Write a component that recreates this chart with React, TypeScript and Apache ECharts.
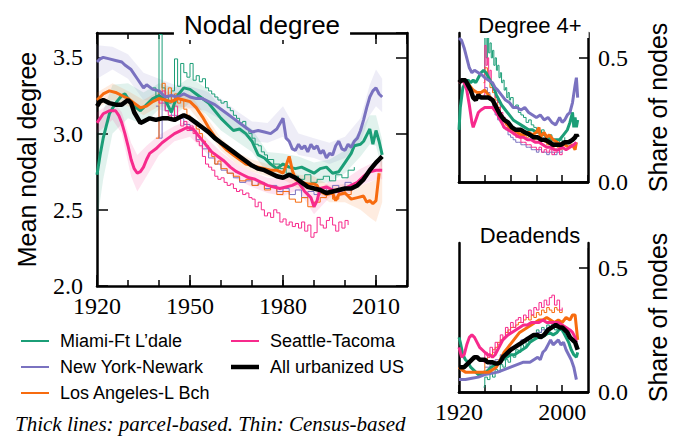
import React, { useEffect, useRef } from "react";
import * as echarts from "echarts";

// ---------- colours ----------
const C_MIAMI = "#1b9e77";
const C_NY = "#7a72c0";
const C_LA = "#f76b0f";
const C_SEA = "#f72a8c";
const C_US = "#000000";

const cityNames = ["Miami-Ft L\u2019dale", "New York-Newark", "Los Angeles-L Bch", "Seattle-Tacoma", "All urbanized US"];

// ---------- Nodal degree (main panel), parcel-based (thick) ----------
const usDeg: number[][] = [[1920,3.18],[1921,3.21],[1922,3.22],[1924,3.20],[1926,3.19],[1928,3.19],[1930,3.22],[1931,3.20],[1932,3.14],[1934,3.07],[1935,3.08],[1937,3.10],[1939,3.09],[1941,3.10],[1943,3.10],[1945,3.09],[1947,3.11],[1948,3.12],[1950,3.10],[1952,3.07],[1954,3.04],[1956,3.01],[1958,2.97],[1960,2.94],[1962,2.91],[1964,2.88],[1966,2.85],[1968,2.82],[1970,2.79],[1972,2.77],[1974,2.76],[1976,2.74],[1978,2.72],[1980,2.71],[1982,2.73],[1984,2.71],[1986,2.68],[1988,2.65],[1990,2.64],[1992,2.63],[1994,2.61],[1996,2.62],[1998,2.63],[2000,2.64],[2002,2.64],[2004,2.66],[2006,2.70],[2008,2.76],[2010,2.81],[2011,2.83],[2012,2.85]];
const nyDeg: number[][] = [[1920,3.47],[1921,3.49],[1922,3.50],[1924,3.49],[1926,3.48],[1928,3.47],[1929,3.45],[1931,3.42],[1933,3.36],[1935,3.30],[1936,3.32],[1938,3.29],[1940,3.28],[1942,3.24],[1944,3.25],[1946,3.24],[1948,3.26],[1950,3.24],[1952,3.23],[1954,3.23],[1956,3.21],[1958,3.19],[1960,3.16],[1962,3.13],[1964,3.10],[1966,3.07],[1968,3.04],[1970,3.01],[1972,3.02],[1974,3.01],[1976,3.00],[1978,3.03],[1980,3.10],[1981,2.97],[1982,2.95],[1983,2.90],[1984,2.89],[1985,2.93],[1986,2.90],[1987,2.92],[1988,2.88],[1989,2.93],[1990,2.90],[1991,2.92],[1992,2.87],[1993,2.89],[1994,2.84],[1995,2.87],[1996,2.86],[1997,2.92],[1998,2.95],[1999,2.90],[2000,2.89],[2001,2.93],[2002,2.91],[2003,2.95],[2004,2.97],[2005,3.02],[2006,3.09],[2007,3.17],[2008,3.24],[2009,3.28],[2010,3.30],[2011,3.26],[2012,3.24]];
const miamiDeg: number[][] = [[1920,2.73],[1921,2.86],[1922,2.97],[1923,3.05],[1924,3.13],[1926,3.20],[1928,3.25],[1929,3.26],[1930,3.23],[1932,3.18],[1934,3.15],[1936,3.19],[1938,3.23],[1940,3.25],[1942,3.22],[1943,3.18],[1944,3.14],[1945,3.20],[1946,3.25],[1948,3.30],[1950,3.29],[1952,3.26],[1954,3.23],[1956,3.20],[1958,3.15],[1960,3.10],[1962,3.06],[1964,3.02],[1966,3.03],[1968,3.00],[1970,2.95],[1972,2.86],[1974,2.84],[1976,2.80],[1978,2.77],[1980,2.80],[1982,2.78],[1984,2.77],[1986,2.78],[1988,2.76],[1990,2.74],[1992,2.77],[1994,2.78],[1996,2.74],[1998,2.75],[2000,2.81],[2002,2.87],[2003,2.92],[2005,2.93],[2006,2.95],[2007,2.99],[2008,3.03],[2009,2.93],[2010,3.02],[2011,2.95],[2012,2.86]];
const laDeg: number[][] = [[1920,3.22],[1922,3.26],[1924,3.28],[1926,3.27],[1928,3.25],[1930,3.23],[1932,3.20],[1934,3.17],[1936,3.18],[1938,3.21],[1940,3.23],[1942,3.22],[1944,3.21],[1946,3.23],[1948,3.22],[1950,3.21],[1952,3.17],[1954,3.11],[1956,3.04],[1958,2.98],[1960,2.93],[1962,2.89],[1964,2.86],[1966,2.83],[1968,2.80],[1970,2.79],[1972,2.78],[1974,2.77],[1976,2.76],[1978,2.76],[1980,2.74],[1981,2.79],[1982,2.85],[1983,2.76],[1984,2.70],[1986,2.68],[1988,2.67],[1990,2.67],[1991,2.66],[1992,2.62],[1994,2.60],[1996,2.61],[1997,2.56],[1998,2.60],[2000,2.61],[2002,2.57],[2004,2.58],[2006,2.59],[2007,2.55],[2008,2.56],[2009,2.54],[2010,2.56],[2011,2.74]];
const seaDeg: number[][] = [[1920,3.07],[1921,3.10],[1922,3.13],[1924,3.15],[1926,3.15],[1927,3.12],[1928,3.07],[1929,3.00],[1930,2.92],[1931,2.83],[1932,2.77],[1933,2.74],[1934,2.75],[1935,2.78],[1936,2.83],[1937,2.87],[1939,2.90],[1941,2.94],[1943,2.97],[1945,3.00],[1947,3.02],[1949,3.04],[1951,3.03],[1953,2.98],[1955,2.93],[1957,2.88],[1959,2.85],[1961,2.82],[1963,2.78],[1965,2.75],[1967,2.73],[1969,2.71],[1971,2.70],[1973,2.68],[1975,2.66],[1977,2.65],[1979,2.64],[1981,2.65],[1983,2.66],[1985,2.68],[1987,2.62],[1989,2.58],[1990,2.52],[1991,2.56],[1992,2.64],[1994,2.65],[1996,2.63],[1998,2.62],[2000,2.64],[2002,2.66],[2004,2.68],[2006,2.72],[2008,2.75],[2010,2.76],[2012,2.76]];

// confidence bands [year, low, high]
const nyBand: number[][] = [[1920,3.36,3.58],[1925,3.42,3.57],[1930,3.36,3.52],[1935,3.22,3.40],[1940,3.21,3.36],[1945,3.18,3.32],[1950,3.17,3.31],[1955,3.15,3.28],[1960,3.09,3.23],[1965,3.02,3.15],[1970,2.95,3.08],[1975,2.94,3.07],[1980,2.98,3.18],[1985,2.86,3.00],[1990,2.84,2.97],[1995,2.80,2.94],[2000,2.84,2.98],[2005,2.94,3.10],[2008,3.12,3.32],[2010,3.18,3.42],[2012,3.14,3.36]];
const miamiBand: number[][] = [[1920,2.42,3.02],[1922,2.70,3.15],[1925,3.00,3.32],[1930,3.10,3.33],[1935,3.06,3.27],[1940,3.16,3.33],[1945,3.12,3.30],[1950,3.20,3.37],[1955,3.13,3.30],[1960,3.02,3.17],[1965,2.95,3.09],[1970,2.88,3.03],[1975,2.74,2.88],[1980,2.72,2.87],[1985,2.70,2.85],[1990,2.67,2.81],[1995,2.68,2.83],[2000,2.74,2.89],[2005,2.85,3.02],[2008,2.93,3.12],[2010,2.92,3.12],[2012,2.76,2.96]];
const laBand: number[][] = [[1920,3.17,3.27],[1925,3.22,3.33],[1930,3.18,3.28],[1935,3.12,3.22],[1940,3.18,3.28],[1945,3.17,3.27],[1950,3.16,3.26],[1955,3.03,3.12],[1960,2.89,2.97],[1965,2.80,2.88],[1970,2.75,2.83],[1975,2.72,2.80],[1980,2.70,2.80],[1985,2.64,2.73],[1990,2.62,2.72],[1995,2.55,2.66],[2000,2.55,2.67],[2005,2.50,2.66],[2008,2.45,2.68],[2010,2.42,2.70],[2012,2.55,2.85]];
const seaBand: number[][] = [[1920,3.00,3.14],[1925,3.09,3.21],[1928,3.00,3.14],[1931,2.72,2.94],[1933,2.62,2.86],[1936,2.72,2.92],[1940,2.86,2.99],[1945,2.95,3.05],[1950,2.98,3.09],[1955,2.88,2.98],[1960,2.78,2.88],[1965,2.70,2.80],[1970,2.65,2.75],[1975,2.61,2.71],[1980,2.59,2.70],[1985,2.63,2.73],[1990,2.47,2.60],[1995,2.58,2.69],[2000,2.59,2.70],[2005,2.66,2.77],[2010,2.70,2.82],[2012,2.70,2.82]];

// Census-based (thin)
const miamiDegC: number[][] = [[1938,3.30],[1939,3.22],[1940,3.65],[1941,3.30],[1942,3.25],[1943,3.20],[1944,3.28],[1945,3.49],[1946,3.31],[1947,3.46],[1948,3.40],[1949,3.37],[1950,3.46],[1951,3.35],[1952,3.38],[1953,3.34],[1954,3.36],[1955,3.30],[1956,3.28],[1957,3.26],[1958,3.24],[1959,3.22],[1960,3.20],[1961,3.21],[1962,3.17],[1963,3.15],[1964,3.12],[1965,3.10],[1966,3.07],[1967,3.08],[1968,3.03],[1969,3.00],[1970,2.97],[1971,2.93],[1972,2.92],[1973,2.88],[1974,2.86],[1975,2.83],[1977,2.80],[1979,2.77],[1981,2.74],[1983,2.72],[1985,2.70],[1987,2.73],[1989,2.68],[1991,2.70],[1993,2.72],[1995,2.69],[1997,2.73],[1999,2.71],[2001,2.76],[2003,2.78]];
const seaDegC: number[][] = [[1939,3.25],[1940,3.20],[1941,3.28],[1942,3.15],[1943,3.12],[1944,3.10],[1945,3.18],[1946,3.10],[1947,3.05],[1948,3.08],[1949,3.02],[1950,3.05],[1951,3.00],[1952,2.95],[1953,2.92],[1954,2.85],[1955,2.80],[1956,2.78],[1957,2.76],[1958,2.72],[1959,2.70],[1960,2.71],[1961,2.68],[1962,2.66],[1963,2.67],[1964,2.64],[1965,2.62],[1966,2.63],[1967,2.60],[1968,2.61],[1969,2.58],[1970,2.57],[1971,2.52],[1972,2.55],[1973,2.50],[1974,2.46],[1975,2.48],[1976,2.45],[1977,2.50],[1978,2.48],[1979,2.42],[1980,2.44],[1981,2.40],[1982,2.42],[1983,2.39],[1984,2.41],[1985,2.38],[1986,2.42],[1987,2.36],[1988,2.40],[1989,2.32],[1990,2.35],[1991,2.45],[1992,2.40],[1993,2.38],[1994,2.43],[1995,2.45],[1996,2.40],[1997,2.36],[1998,2.42],[1999,2.38],[2000,2.43],[2001,2.40]];
const laDegC: number[][] = [[1939,2.97],[1940,3.27],[1941,3.33],[1942,3.25],[1943,3.30],[1944,3.22],[1945,3.26],[1946,3.20],[1947,3.22],[1948,3.16],[1949,3.12],[1950,3.10],[1951,3.08],[1952,3.03],[1953,3.00],[1954,2.95],[1955,2.92],[1956,2.88],[1957,2.85],[1958,2.80],[1959,2.82],[1960,2.77],[1962,2.74],[1964,2.72],[1966,2.69],[1968,2.70],[1970,2.66],[1972,2.67],[1974,2.63],[1976,2.65],[1978,2.60],[1980,2.62],[1982,2.57],[1984,2.55],[1986,2.58],[1988,2.52],[1990,2.55],[1992,2.58],[1994,2.62],[1996,2.57],[1998,2.63],[2000,2.60],[2002,2.63]];
const nyDegC: number[][] = [[1939,3.18],[1940,2.97],[1941,3.20],[1942,3.15],[1944,3.12],[1946,3.10],[1948,3.06],[1950,3.02],[1952,2.96],[1954,2.90],[1956,2.84],[1958,2.80],[1960,2.76],[1962,2.74],[1964,2.71],[1966,2.68],[1968,2.69],[1970,2.66],[1972,2.68],[1974,2.64],[1976,2.66],[1978,2.62],[1980,2.64],[1982,2.60],[1984,2.63],[1986,2.58],[1988,2.62],[1990,2.60],[1992,2.64],[1994,2.61],[1996,2.66],[1998,2.63],[2000,2.68],[2002,2.66]];

// ---------- Degree 4+ share ----------
const usD4: number[][] = [[1920,0.40],[1922,0.41],[1925,0.41],[1927,0.39],[1929,0.37],[1931,0.34],[1933,0.33],[1935,0.35],[1937,0.34],[1940,0.34],[1943,0.34],[1946,0.33],[1948,0.31],[1950,0.29],[1952,0.27],[1955,0.25],[1958,0.24],[1961,0.22],[1964,0.21],[1968,0.21],[1971,0.20],[1975,0.19],[1978,0.18],[1981,0.18],[1984,0.17],[1987,0.17],[1990,0.16],[1993,0.15],[1996,0.15],[1999,0.15],[2002,0.16],[2005,0.16],[2008,0.17],[2010,0.18],[2011,0.19],[2012,0.18]];
const nyD4: number[][] = [[1920,0.58],[1922,0.57],[1924,0.54],[1926,0.50],[1928,0.46],[1930,0.44],[1932,0.45],[1935,0.44],[1938,0.43],[1940,0.42],[1943,0.41],[1946,0.40],[1948,0.38],[1950,0.37],[1953,0.35],[1956,0.33],[1959,0.32],[1962,0.30],[1965,0.30],[1968,0.29],[1971,0.30],[1974,0.28],[1977,0.27],[1980,0.26],[1983,0.27],[1986,0.25],[1989,0.26],[1992,0.24],[1995,0.23],[1998,0.26],[2000,0.24],[2002,0.25],[2004,0.27],[2006,0.28],[2008,0.32],[2010,0.39],[2011,0.42],[2012,0.34]];
const miamiD4: number[][] = [[1920,0.21],[1921,0.30],[1923,0.38],[1925,0.40],[1927,0.41],[1929,0.40],[1931,0.41],[1933,0.40],[1935,0.42],[1937,0.44],[1939,0.45],[1941,0.44],[1943,0.42],[1945,0.40],[1947,0.38],[1949,0.35],[1951,0.33],[1953,0.31],[1956,0.29],[1959,0.27],[1962,0.25],[1965,0.24],[1968,0.23],[1971,0.22],[1974,0.21],[1977,0.21],[1980,0.20],[1983,0.20],[1986,0.19],[1989,0.18],[1992,0.17],[1995,0.17],[1998,0.17],[2001,0.19],[2004,0.21],[2006,0.24],[2008,0.28],[2009,0.22],[2010,0.26],[2011,0.22],[2012,0.25]];
const laD4: number[][] = [[1920,0.40],[1922,0.41],[1925,0.41],[1928,0.39],[1931,0.37],[1934,0.36],[1937,0.36],[1940,0.37],[1943,0.35],[1946,0.33],[1948,0.30],[1950,0.28],[1953,0.26],[1956,0.24],[1959,0.22],[1962,0.21],[1965,0.20],[1968,0.19],[1971,0.19],[1974,0.20],[1977,0.19],[1980,0.20],[1982,0.22],[1983,0.18],[1986,0.20],[1988,0.18],[1990,0.19],[1993,0.17],[1996,0.16],[1999,0.15],[2002,0.15],[2005,0.14],[2008,0.15],[2010,0.13],[2011,0.16]];
const seaD4: number[][] = [[1920,0.40],[1922,0.41],[1924,0.40],[1926,0.37],[1928,0.31],[1930,0.24],[1931,0.22],[1933,0.25],[1935,0.28],[1937,0.29],[1940,0.30],[1943,0.30],[1946,0.30],[1949,0.28],[1952,0.25],[1955,0.22],[1958,0.21],[1961,0.20],[1964,0.19],[1967,0.18],[1970,0.18],[1973,0.17],[1976,0.17],[1979,0.16],[1982,0.16],[1985,0.15],[1988,0.14],[1991,0.14],[1994,0.13],[1997,0.13],[2000,0.14],[2003,0.13],[2006,0.14],[2009,0.15],[2011,0.16]];
const miamiD4C: number[][] = [[1939,0.45],[1940,0.62],[1941,0.50],[1942,0.58],[1943,0.52],[1944,0.56],[1945,0.50],[1946,0.53],[1947,0.47],[1948,0.50],[1949,0.45],[1950,0.47],[1951,0.42],[1952,0.44],[1953,0.40],[1954,0.41],[1955,0.37],[1956,0.38],[1957,0.34],[1958,0.36],[1959,0.33],[1960,0.34],[1962,0.30],[1964,0.31],[1966,0.28],[1968,0.27],[1970,0.26],[1972,0.24],[1974,0.25],[1976,0.23],[1978,0.22],[1980,0.21],[1982,0.20],[1984,0.21],[1986,0.19],[1988,0.18],[1990,0.19],[1992,0.17],[1994,0.16],[1996,0.15],[1998,0.17],[2000,0.16],[2002,0.18]];
const seaD4C: number[][] = [[1939,0.35],[1940,0.55],[1941,0.47],[1942,0.50],[1943,0.42],[1944,0.45],[1945,0.40],[1946,0.37],[1947,0.38],[1948,0.34],[1950,0.32],[1952,0.28],[1954,0.26],[1956,0.23],[1958,0.21],[1960,0.20],[1962,0.19],[1964,0.18],[1966,0.18],[1968,0.16],[1970,0.16],[1972,0.15],[1974,0.15],[1976,0.14],[1978,0.14],[1980,0.13],[1982,0.14],[1984,0.12],[1986,0.13],[1988,0.12],[1990,0.13],[1992,0.11],[1994,0.12],[1996,0.13],[1998,0.11],[2000,0.12]];
const laD4C: number[][] = [[1939,0.40],[1940,0.46],[1942,0.42],[1944,0.38],[1946,0.36],[1948,0.33],[1950,0.30],[1952,0.27],[1954,0.25],[1956,0.23],[1958,0.22],[1960,0.21],[1962,0.21],[1964,0.20],[1966,0.19],[1968,0.20],[1970,0.19],[1972,0.18],[1974,0.19],[1976,0.18],[1978,0.17],[1980,0.18],[1982,0.16],[1984,0.17],[1986,0.16],[1988,0.15],[1990,0.16],[1992,0.14],[1994,0.15],[1996,0.14],[1998,0.13],[2000,0.14]];
const nyD4C: number[][] = [[1940,0.38],[1942,0.36],[1944,0.33],[1946,0.30],[1948,0.27],[1950,0.25],[1952,0.24],[1954,0.22],[1956,0.21],[1958,0.19],[1960,0.18],[1962,0.17],[1964,0.16],[1966,0.16],[1968,0.15],[1970,0.15],[1972,0.14],[1974,0.14],[1976,0.13],[1978,0.13],[1980,0.12],[1982,0.13],[1984,0.12],[1986,0.12],[1988,0.11],[1990,0.12],[1992,0.12],[1994,0.11],[1996,0.12],[1998,0.12],[2000,0.13]];

// ---------- Deadends share ----------
const usDE: number[][] = [[1920,0.10],[1922,0.10],[1924,0.10],[1926,0.11],[1928,0.12],[1930,0.13],[1932,0.14],[1934,0.14],[1936,0.13],[1938,0.13],[1940,0.13],[1942,0.12],[1944,0.12],[1946,0.12],[1948,0.115],[1950,0.115],[1952,0.12],[1954,0.14],[1956,0.15],[1958,0.16],[1960,0.17],[1963,0.18],[1966,0.19],[1969,0.20],[1972,0.21],[1975,0.22],[1978,0.23],[1981,0.23],[1983,0.22],[1986,0.23],[1989,0.25],[1992,0.26],[1995,0.27],[1998,0.26],[2000,0.26],[2002,0.25],[2004,0.24],[2006,0.22],[2008,0.21],[2010,0.20],[2012,0.17]];
const seaDE: number[][] = [[1920,0.18],[1922,0.14],[1924,0.15],[1926,0.19],[1928,0.22],[1930,0.23],[1932,0.22],[1934,0.20],[1936,0.18],[1938,0.17],[1940,0.16],[1942,0.15],[1944,0.15],[1946,0.14],[1948,0.15],[1950,0.17],[1952,0.19],[1954,0.21],[1956,0.22],[1958,0.23],[1961,0.24],[1964,0.25],[1967,0.26],[1970,0.27],[1973,0.27],[1976,0.28],[1979,0.28],[1982,0.28],[1985,0.29],[1988,0.28],[1991,0.28],[1994,0.28],[1997,0.28],[2000,0.27],[2003,0.26],[2006,0.25],[2008,0.24],[2010,0.22],[2011,0.20]];
const laDE: number[][] = [[1920,0.10],[1922,0.09],[1925,0.08],[1928,0.08],[1931,0.08],[1934,0.08],[1937,0.08],[1940,0.08],[1943,0.08],[1946,0.09],[1949,0.10],[1952,0.13],[1955,0.16],[1958,0.18],[1961,0.20],[1964,0.22],[1967,0.24],[1970,0.25],[1973,0.26],[1976,0.27],[1979,0.28],[1982,0.29],[1985,0.29],[1988,0.30],[1991,0.29],[1994,0.28],[1997,0.29],[2000,0.28],[2003,0.30],[2006,0.29],[2008,0.31],[2010,0.31],[2011,0.26],[2012,0.21]];
const miamiDE: number[][] = [[1920,0.22],[1921,0.20],[1923,0.15],[1925,0.13],[1927,0.12],[1929,0.10],[1931,0.09],[1933,0.08],[1935,0.07],[1937,0.07],[1939,0.08],[1941,0.08],[1943,0.09],[1945,0.10],[1948,0.11],[1951,0.12],[1954,0.13],[1957,0.14],[1960,0.15],[1963,0.15],[1966,0.16],[1969,0.17],[1972,0.18],[1975,0.20],[1978,0.21],[1981,0.22],[1984,0.22],[1987,0.23],[1990,0.24],[1993,0.23],[1996,0.24],[1999,0.26],[2001,0.24],[2003,0.22],[2005,0.20],[2007,0.17],[2009,0.15],[2011,0.14],[2012,0.16]];
const nyDE: number[][] = [[1920,0.05],[1925,0.05],[1930,0.055],[1935,0.06],[1940,0.07],[1945,0.075],[1950,0.08],[1955,0.09],[1960,0.10],[1965,0.11],[1970,0.12],[1975,0.12],[1978,0.13],[1981,0.14],[1983,0.13],[1985,0.16],[1987,0.17],[1989,0.19],[1991,0.21],[1993,0.19],[1995,0.20],[1997,0.21],[1999,0.19],[2001,0.20],[2003,0.17],[2005,0.15],[2007,0.13],[2009,0.10],[2011,0.05]];
const seaDEC: number[][] = [[1939,0.12],[1940,0.16],[1942,0.14],[1944,0.18],[1946,0.16],[1948,0.20],[1950,0.19],[1952,0.23],[1954,0.22],[1956,0.26],[1958,0.24],[1960,0.28],[1962,0.26],[1964,0.29],[1966,0.30],[1968,0.28],[1970,0.31],[1972,0.30],[1974,0.33],[1976,0.31],[1978,0.34],[1980,0.33],[1982,0.36],[1984,0.34],[1986,0.37],[1988,0.35],[1990,0.38],[1992,0.39],[1994,0.35],[1996,0.37],[1998,0.33],[2000,0.34]];
const laDEC: number[][] = [[1939,0.08],[1940,0.12],[1942,0.14],[1944,0.15],[1946,0.17],[1948,0.18],[1950,0.20],[1952,0.21],[1954,0.22],[1956,0.24],[1958,0.25],[1960,0.26],[1962,0.26],[1964,0.27],[1966,0.28],[1968,0.28],[1970,0.29],[1972,0.30],[1974,0.29],[1976,0.31],[1978,0.30],[1980,0.32],[1982,0.31],[1984,0.33],[1986,0.32],[1988,0.34],[1990,0.33],[1992,0.32],[1994,0.34],[1996,0.33],[1998,0.32],[2000,0.33]];
const miamiDEC: number[][] = [[1939,0.02],[1940,0.06],[1942,0.05],[1944,0.08],[1946,0.06],[1948,0.09],[1950,0.08],[1952,0.11],[1954,0.10],[1956,0.13],[1958,0.12],[1960,0.15],[1962,0.14],[1964,0.17],[1966,0.16],[1968,0.19],[1970,0.18],[1972,0.21],[1974,0.20],[1976,0.23],[1978,0.22],[1980,0.25],[1982,0.24],[1984,0.26],[1986,0.25],[1988,0.27],[1990,0.26],[1992,0.28],[1994,0.25],[1996,0.27],[1998,0.26],[2000,0.24]];
const nyDEC: number[][] = [[1940,0.10],[1944,0.11],[1948,0.13],[1952,0.15],[1956,0.16],[1960,0.18],[1964,0.19],[1968,0.21],[1972,0.22],[1976,0.23],[1980,0.24],[1984,0.25],[1988,0.26],[1992,0.27],[1996,0.26],[2000,0.25]];

// ---------- tick labels ----------
const mainYearLabels = [1920, 1950, 1980, 2010];
const smallYearLabels = [1920, 2000];

const SANS = "Liberation Sans";
const SERIF = "Liberation Serif";

function hexA(hex: string, a: number) {
  const n = parseInt(hex.slice(1), 16);
  return `rgba(${(n >> 16) & 255},${(n >> 8) & 255},${n & 255},${a})`;
}

const axisLine = (show: boolean) => ({ show, lineStyle: { color: "#000", width: 2.5 } });
const tick = (show: boolean, length: number) => ({ show, inside: true, length, lineStyle: { color: "#000", width: 1.5 } });

function xAx(grid: number, position: string, interval: number, tlen: number, line: boolean, labels: number[] | null) {
  return {
    type: "value", gridIndex: grid, position, min: 1920, max: 2020, interval,
    axisLine: axisLine(line), axisTick: tick(tlen > 0, tlen), splitLine: { show: false },
    axisLabel: labels
      ? { show: true, margin: 8, showMaxLabel: false, fontFamily: SERIF, fontSize: 24, color: "#000",
          formatter: (v: number) => (labels.indexOf(v) >= 0 ? String(v) : "") }
      : { show: false },
  };
}

function yAx(grid: number, position: string, min: number, max: number, interval: number, tlen: number, labels: boolean, name?: string, nameGap?: number) {
  return {
    type: "value", gridIndex: grid, position, min, max, interval,
    axisLine: axisLine(true), axisTick: tick(tlen > 0, tlen), splitLine: { show: false },
    axisLabel: labels
      ? { show: true, margin: position === "left" ? 14 : 10, showMaxLabel: false, fontFamily: SERIF, fontSize: 24, color: "#000",
          formatter: (v: number) => v.toFixed(1) }
      : { show: false },
    name: name || "", nameLocation: "middle", nameGap: nameGap || 0, nameRotate: 90,
    nameTextStyle: { fontFamily: SANS, fontSize: 25, color: "#000" },
  };
}

function thick(name: string, data: number[][], color: string, xi: number, yi: number, w = 3, z = 4) {
  return { type: "line", name, data, xAxisIndex: xi, yAxisIndex: yi, symbol: "none", showSymbol: false,
    lineStyle: { color, width: w }, itemStyle: { color }, z, silent: true };
}
function thin(name: string, data: number[][], color: string, xi: number, yi: number) {
  return { type: "line", name, data, xAxisIndex: xi, yAxisIndex: yi, symbol: "none", showSymbol: false, step: "end",
    lineStyle: { color, width: 1 }, itemStyle: { color }, z: 3, silent: true };
}
function band(name: string, data: number[][], color: string, xi: number, yi: number) {
  return {
    type: "custom", name, data, xAxisIndex: xi, yAxisIndex: yi, silent: true, z: 1,
    encode: { x: 0, y: [1, 2] },
    renderItem: (params: any, api: any) => {
      if (params.dataIndex !== 0) return null;
      const n = params.dataInsideLength;
      const top: number[][] = [];
      const bot: number[][] = [];
      for (let i = 0; i < n; i++) {
        top.push(api.coord([api.value(0, i), api.value(2, i)]));
        bot.push(api.coord([api.value(0, i), api.value(1, i)]));
      }
      return { type: "polygon", shape: { points: top.concat(bot.reverse()) }, style: { fill: hexA(color, 0.13), stroke: "none" } };
    },
  };
}

function panelSeries(xi: number, yi: number, thickSets: number[][][], thinSets: number[][][]) {
  const cols = [C_MIAMI, C_NY, C_LA, C_SEA];
  const s: any[] = [];
  thinSets.forEach((d, i) => s.push(thin(cityNames[i] + " (Census)", d, cols[i], xi, yi)));
  thickSets.slice(0, 4).forEach((d, i) => s.push(thick(cityNames[i], d, cols[i], xi, yi)));
  s.push(thick(cityNames[4], thickSets[4], C_US, xi, yi, 4.5, 5));
  return s;
}

function buildOption() {
  const grid = [
    { left: 97, top: 33, width: 310, height: 253, outerBoundsMode: "none" },
    { left: 459, top: 33, width: 129, height: 149, outerBoundsMode: "none" },
    { left: 459, top: 243, width: 129, height: 149, outerBoundsMode: "none" },
  ];
  const xAxis = [
    xAx(0, "bottom", 10, 6, true, null),
    xAx(0, "bottom", 30, 11, false, mainYearLabels),
    xAx(0, "top", 10, 6, true, null),
    xAx(0, "top", 30, 11, false, null),
    xAx(1, "bottom", 20, 7, true, null),
    xAx(1, "top", 20, 0, true, null),
    xAx(2, "bottom", 20, 7, true, smallYearLabels),
    xAx(2, "top", 20, 0, true, null),
  ];
  const yAxis = [
    yAx(0, "left", 2.0, 3.66, 0.5, 11, true, "Mean nodal degree", 58),
    yAx(0, "right", 2.0, 3.66, 0.5, 11, false),
    yAx(1, "left", 0, 0.6, 0.5, 0, false),
    yAx(1, "right", 0, 0.6, 0.5, 9, true, "Share of nodes", 57),
    yAx(2, "left", 0, 0.6, 0.5, 0, false),
    yAx(2, "right", 0, 0.6, 0.5, 9, true, "Share of nodes", 57),
  ];
  const series: any[] = [
    band("NY band", nyBand, C_NY, 0, 0),
    band("Miami band", miamiBand, C_MIAMI, 0, 0),
    band("LA band", laBand, C_LA, 0, 0),
    band("Seattle band", seaBand, C_SEA, 0, 0),
    ...panelSeries(0, 0, [miamiDeg, nyDeg, laDeg, seaDeg, usDeg], [miamiDegC, nyDegC, laDegC, seaDegC]),
    ...panelSeries(4, 2, [miamiD4, nyD4, laD4, seaD4, usD4], [miamiD4C, nyD4C, laD4C, seaD4C]),
    ...panelSeries(6, 4, [miamiDE, nyDE, laDE, seaDE, usDE], [miamiDEC, nyDEC, laDEC, seaDEC]),
  ];
  const titleStyle = (fs: number) => ({ fontFamily: SANS, fontSize: fs, fontWeight: "normal" as const, color: "#000" });
  const title = [
    { text: "Nodal degree", left: 252, top: 7, textAlign: "center", backgroundColor: "#fff", padding: [5, 10, 2, 10], textStyle: titleStyle(26) },
    { text: "Degree 4+", left: 523, top: 12, textAlign: "center", backgroundColor: "#fff", padding: [2, 7, 2, 7], textStyle: titleStyle(22) },
    { text: "Deadends", left: 523, top: 222, textAlign: "center", backgroundColor: "#fff", padding: [2, 7, 2, 7], textStyle: titleStyle(22) },
  ];
  const legendCols = [C_MIAMI, C_NY, C_LA, C_SEA, C_US];
  const legendPos = [[21, 341], [21, 367], [21, 393], [231, 341], [231, 367]];
  const graphic: any[] = [];
  cityNames.forEach((nm, i) => {
    const [lx, ly] = legendPos[i];
    graphic.push({ type: "line", shape: { x1: lx, y1: ly, x2: lx + 28, y2: ly }, style: { stroke: legendCols[i], lineWidth: i === 4 ? 4.5 : 2 }, silent: true });
    graphic.push({ type: "text", x: lx + 39, y: ly, style: { text: nm, fontFamily: SANS, fontSize: 18, fill: "#000", verticalAlign: "middle", align: "left" }, silent: true });
  });
  graphic.push({ type: "text", x: 15, y: 424, style: { text: "Thick lines: parcel-based. Thin: Census-based", fontFamily: SERIF, fontStyle: "italic", fontSize: 21, fill: "#000", verticalAlign: "middle", align: "left" }, silent: true });

  return { animation: false, backgroundColor: "#fff", grid, xAxis, yAxis, series, title, graphic, tooltip: { show: false } };
}

export default function App() {
  const ref = useRef<HTMLDivElement>(null);
  useEffect(() => {
    if (!ref.current) return;
    const chart = echarts.init(ref.current, null, { renderer: "svg" });
    chart.setOption(buildOption() as any);
    return () => chart.dispose();
  }, []);
  return <div ref={ref} style={{ position: "absolute", left: 0, top: 0, width: 683, height: 437 }} />;
}
